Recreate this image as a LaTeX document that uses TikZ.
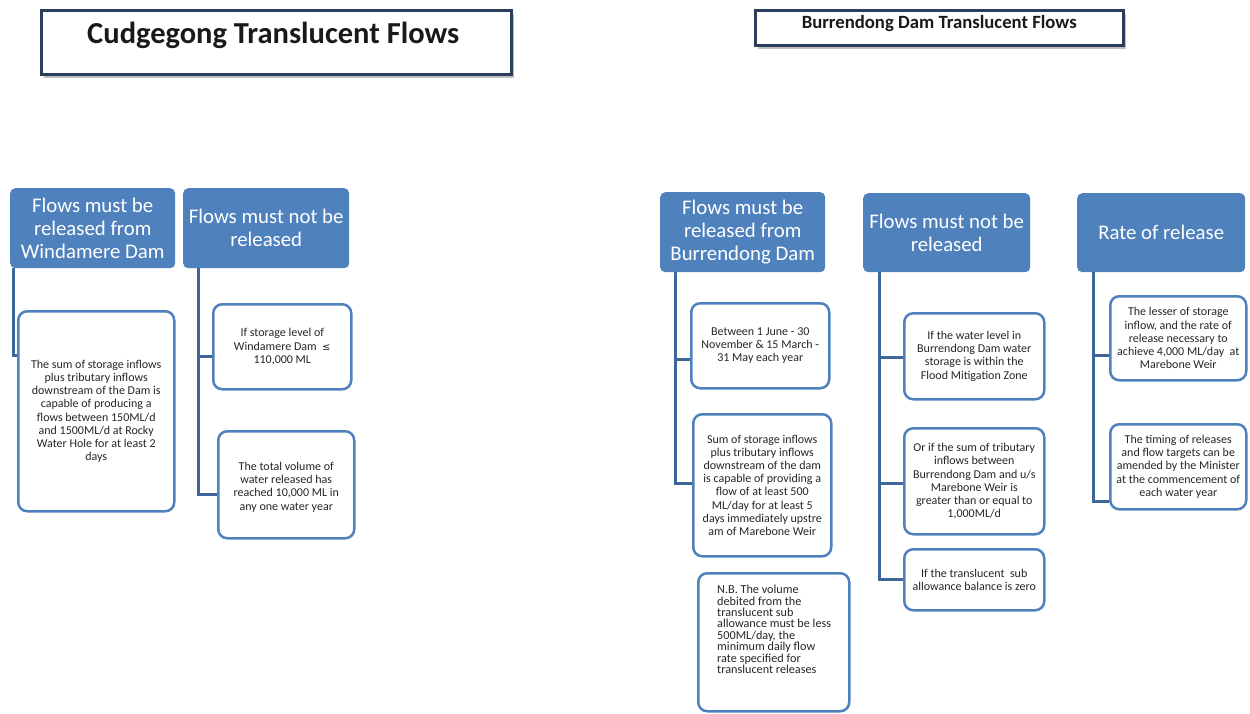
\documentclass[tikz,border=0pt]{standalone}
\usepackage{fontspec}
\setmainfont{Carlito}
\newfontfamily\dejavu{DejaVu Sans}
\usetikzlibrary{calc,shadows}
\definecolor{hdrblue}{HTML}{4F81BD}
\definecolor{boxblue}{HTML}{4F81BD}
\definecolor{connblue}{HTML}{3D679B}
\definecolor{titleframe}{HTML}{2B3E5A}
\begin{document}
\begin{tikzpicture}[x=1pt,y=-1pt,
 hdr/.style={fill=hdrblue, rounded corners=5pt, text=white, align=center, inner sep=0pt, anchor=north west, font=\fontsize{20.8}{23}\selectfont},
 cbox/.style={draw=boxblue, line width=2.5pt, rounded corners=9pt, fill=white, align=center, inner sep=0pt, anchor=north west, font=\fontsize{12}{13.2}\selectfont, text=black!85},
 conn/.style={draw=connblue, line width=3pt},
 ttl/.style={draw=titleframe, line width=2.5pt, fill=white, anchor=north west, inner sep=0pt, drop shadow={shadow xshift=3pt, shadow yshift=-4pt, opacity=0.5}},
 ttltext/.style={text=black!90, inner sep=0pt}]
\useasboundingbox (0,0) rectangle (1250,713);

% titles
\node[ttl, minimum width=470pt, minimum height=64pt] (t1) at (40,9) {};
\node[ttltext, font=\bfseries\fontsize{30.5}{32}\selectfont] (t1txt) at ($(t1.north)+(-3,26)$) {Cudgegong Translucent Flows};
\node[ttl, minimum width=368pt, minimum height=35pt] (t2) at (754,9) {};
\node[ttltext, font=\bfseries\fontsize{18.7}{20}\selectfont] (t2txt) at ($(t2.north)+(0,14.5)$) {Burrendong Dam Translucent Flows};

% headers
\node[hdr, minimum width=165pt, minimum height=80pt] (h1) at (10,188) {Flows must be\\released from\\Windamere Dam};
\node[hdr, minimum width=166pt, minimum height=80pt] (h2) at (183,188) {Flows must not be\\released};
\node[hdr, minimum width=165pt, minimum height=80pt] (h3) at (660,192) {Flows must be\\released from\\Burrendong Dam};
\node[hdr, minimum width=167pt, minimum height=79pt] (h4) at (863,193) {Flows must not be\\released};
\node[hdr, minimum width=168pt, minimum height=79pt] (h5) at (1077,193) {Rate of release};

% boxes
\node[cbox, minimum width=156pt, minimum height=200pt] (b1) at (17,310) {The sum of storage inflows\\plus tributary inflows\\downstream of the Dam is\\capable of producing a\\flows between 150ML/d\\and 1500ML/d at Rocky\\Water Hole for at least 2\\days};
\node[cbox, minimum width=138pt, minimum height=85pt] (b2a) at (212,303) {If storage level of\\Windamere Dam\ \ {\dejavu\fontsize{10}{13}\selectfont ≤}\\110,000 ML};
\node[cbox, minimum width=136pt, minimum height=107pt] (b2b) at (217,430) {\\The total volume of\\water released has\\reached 10,000 ML in\\any one water year};
\node[cbox, minimum width=138pt, minimum height=85pt] (b3a) at (690,302) {Between 1 June - 30\\November \& 15 March -\\31 May each year};
\node[cbox, minimum width=138pt, minimum height=142pt] (b3b) at (692,413) {Sum of storage inflows\\plus tributary inflows\\downstream of the dam\\is capable of providing a\\flow of at least 500\\ML/day for at least 5\\days immediately upstre\\am of Marebone Weir};
\node[cbox, minimum width=151pt, minimum height=138pt] (nb) at (697,572) {};
\node[anchor=north west, inner sep=0pt, align=left, font=\fontsize{12.2}{11.4}\selectfont, text=black!85] (nbtxt) at ($(nb.north west)+(20,13)$) {N.B. The volume\\debited from the\\translucent sub\\allowance must be less\\500ML/day, the\\minimum daily flow\\rate specified for\\translucent releases};
\node[cbox, minimum width=140pt, minimum height=86pt] (b4a) at (903,312) {If the water level in\\Burrendong Dam water\\storage is within the\\Flood Mitigation Zone};
\node[cbox, minimum width=140pt, minimum height=106pt] (b4b) at (903,427) {Or if the sum of tributary\\inflows between\\Burrendong Dam and u/s\\Marebone Weir is\\greater than or equal to\\1,000ML/d};
\node[cbox, minimum width=140pt, minimum height=61pt] (b4c) at (903,548) {If the translucent\ \ sub\\allowance balance is zero};
\node[cbox, minimum width=136pt, minimum height=84pt] (b5a) at (1109,295) {The lesser of storage\\inflow, and the rate of\\release necessary to\\achieve 4,000 ML/day\ \ at\\Marebone Weir};
\node[cbox, minimum width=136pt, minimum height=85pt] (b5b) at (1109,423) {The timing of releases\\and flow targets can be\\amended by the Minister\\at the commencement of\\each water year};

% connectors
\draw[conn] ($(h1.south west)+(3,0)$) |- ($(b1.north west)!0.225!(b1.south west)$);
\draw[conn] ($(h2.south west)+(15,0)$) |- ($(b2a.north west)!0.61!(b2a.south west)$);
\draw[conn] ($(h2.south west)+(15,0)$) |- ($(b2b.north west)!0.59!(b2b.south west)$);
\draw[conn] ($(h3.south west)+(15,0)$) |- ($(b3a.north west)!0.66!(b3a.south west)$);
\draw[conn] ($(h3.south west)+(15,0)$) |- ($(b3b.north west)!0.49!(b3b.south west)$);
\draw[conn] ($(h4.south west)+(16,0)$) |- ($(b4a.north west)!0.51!(b4a.south west)$);
\draw[conn] ($(h4.south west)+(16,0)$) |- ($(b4b.north west)!0.52!(b4b.south west)$);
\draw[conn] ($(h4.south west)+(16,0)$) |- ($(b4c.north west)!0.49!(b4c.south west)$);
\draw[conn] ($(h5.south west)+(16,0)$) |- ($(b5a.north west)!0.7!(b5a.south west)$);
\draw[conn] ($(h5.south west)+(16,0)$) |- ($(b5b.north west)!0.9!(b5b.south west)$);
\end{tikzpicture}
\end{document}
